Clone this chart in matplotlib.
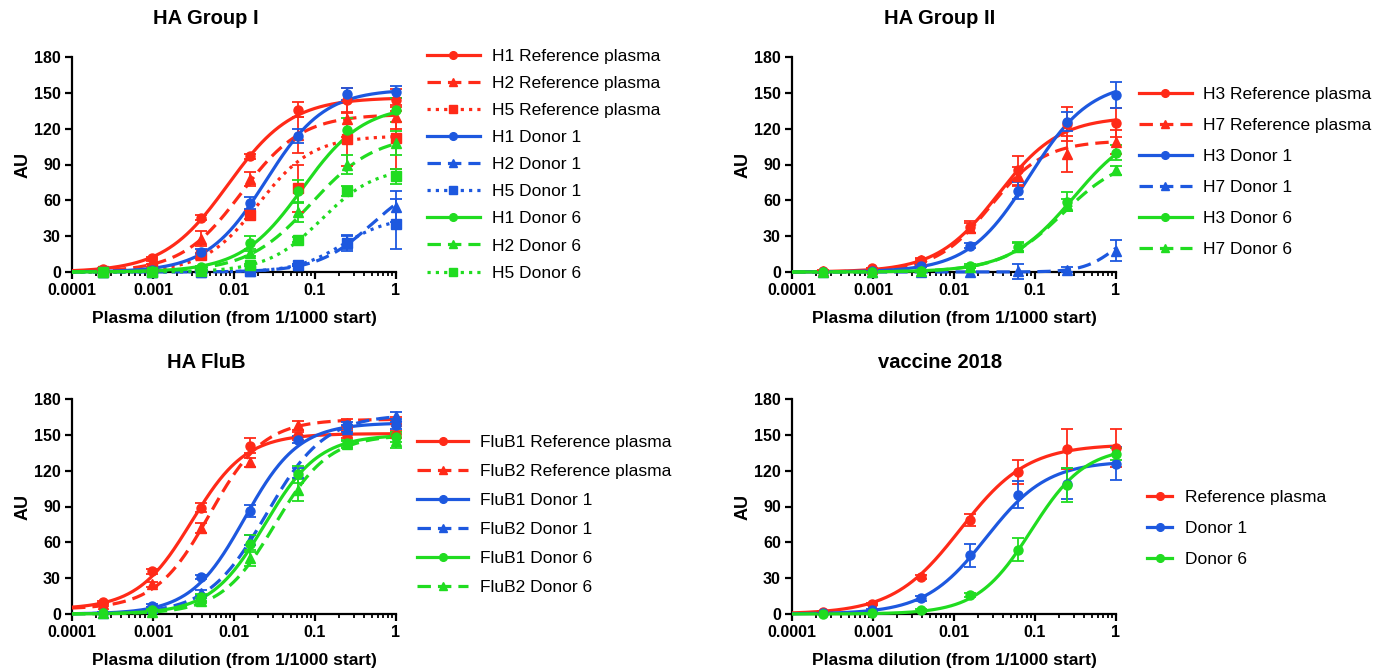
import numpy as np
import matplotlib
matplotlib.use("Agg")
import matplotlib.pyplot as plt
from matplotlib.ticker import LogLocator, FixedLocator, NullFormatter, FixedFormatter

plt.rcParams['font.family'] = ['Liberation Sans', 'DejaVu Sans']

# ---------------- data ----------------
dilution = [1, 1/4, 1/16, 1/64, 1/256, 1/1024, 1/4096]

RED = '#ff2a18'
BLUE = '#1d58df'
GREEN = '#20dc20'

# HA Group I
g1_labels = ["H1 Reference plasma", "H2 Reference plasma", "H5 Reference plasma",
             "H1 Donor 1", "H2 Donor 1", "H5 Donor 1",
             "H1 Donor 6", "H2 Donor 6", "H5 Donor 6"]
g1_values = [[144, 144, 136, 97, 45.6, 11.7, 2.5],
             [130, 128, 115, 78, 28, 8, 1],
             [112, 111, 70, 48, 14, 3, 0.5],
             [151, 149, 114, 58, 17, 2, 0],
             [54.6, 25, 6, 0.5, 0, 0, 0],
             [40, 24, 6, 0.5, 0, 0, 0],
             [136, 119, 68, 24, 4, 1, 0],
             [108, 90, 50, 16, 3, 0.5, 0],
             [80, 68, 27, 6, 1, 0, 0]]
g1_errors = [[9, 10, 6, 2, 2, 1, 0.5],
             [10, 15, 15, 6, 6, 1, 0.5],
             [26, 22, 20, 4, 2, 1, 0.3],
             [5, 5, 6, 5, 2, 0.5, 0],
             [13, 6, 1, 0.3, 0, 0, 0],
             [21, 6, 1, 0.3, 0, 0, 0],
             [10, 10, 9, 6, 1, 0.5, 0],
             [10, 8, 8, 3, 1, 0.3, 0],
             [6, 4, 2, 1, 0.3, 0, 0]]
# 4PL fit parameters (bottom, top, EC50, hill)
g1_fits = [(0, 146, 0.0084, 1.1), (0, 132, 0.0123, 1.17), (0, 114, 0.02, 1.3),
           (0, 153, 0.0248, 1.2), (0, 80, 0.5, 1.3), (0, 46, 0.22, 1.5),
           (0, 140, 0.07, 1.15), (0, 115, 0.09, 1.1), (0, 88, 0.12, 1.3)]
g1_colors = [RED, RED, RED, BLUE, BLUE, BLUE, GREEN, GREEN, GREEN]
g1_styles = ['-', '--', ':'] * 3
g1_markers = ['o', '^', 's'] * 3

# HA Group II
g2_labels = ["H3 Reference plasma", "H7 Reference plasma", "H3 Donor 1",
             "H7 Donor 1", "H3 Donor 6", "H7 Donor 6"]
g2_values = [[125, 124, 85, 38, 10, 3, 1],
             [109, 99, 80, 37, 10, 2.5, 0.5],
             [148, 126, 68, 22, 5, 0.5, 0],
             [18, 2, 0.5, 0, 0, 0, 0],
             [100, 59, 21, 5, 0.5, 0, 0],
             [85, 56, 21, 4, 0.5, 0, 0]]
g2_errors = [[12, 14, 12, 5, 1.5, 0.5, 0.3],
             [10, 15, 8, 4, 1, 0.5, 0.3],
             [11, 8, 7, 2, 1, 0.3, 0],
             [9, 2, 6, 0, 0, 0, 0],
             [6, 8, 4, 2, 0.5, 0, 0],
             [4, 5, 3, 1, 0.3, 0, 0]]
g2_fits = [(0, 130, 0.035, 1.15), (0, 110, 0.028, 1.3), (0, 160, 0.085, 1.15),
           (0, 40, 1.0, 2.2), (0, 125, 0.3, 1.1), (0, 98, 0.22, 1.15)]
g2_colors = [RED, RED, BLUE, BLUE, GREEN, GREEN]
g2_styles = ['-', '--'] * 3
g2_markers = ['o', '^'] * 3

# HA FluB
g3_labels = ["FluB1 Reference plasma", "FluB2 Reference plasma", "FluB1 Donor 1",
             "FluB2 Donor 1", "FluB1 Donor 6", "FluB2 Donor 6"]
g3_values = [[150, 150, 149, 141, 89, 35.6, 9.7],
             [162, 160, 158, 127, 72, 25, 8],
             [158, 158, 146, 86, 31, 7, 1],
             [166, 155, 118, 62, 18, 5, 1],
             [148, 143, 117, 59, 14, 3, 0.5],
             [145, 142, 104, 47, 11, 2, 0.5]]
g3_errors = [[3, 3, 3, 6, 4, 2, 1],
             [3, 3, 4, 4, 4, 2, 1],
             [3, 3, 3, 5, 2, 1, 0.5],
             [3, 3, 4, 4, 2, 1, 0.5],
             [4, 3, 7, 7, 3, 1, 0.3],
             [6, 3, 9, 7, 2, 1, 0.3]]
g3_fits = [(4, 151, 0.003, 1.3), (4, 163, 0.005, 1.3), (0, 160, 0.0135, 1.3),
           (0, 167, 0.025, 1.2), (0, 150, 0.024, 1.3), (0, 150, 0.032, 1.3)]
g3_colors = [RED, RED, BLUE, BLUE, GREEN, GREEN]
g3_styles = ['-', '--'] * 3
g3_markers = ['o', '^'] * 3

# vaccine 2018
g4_labels = ["Reference plasma", "Donor 1", "Donor 6"]
g4_values = [[139, 138, 119, 79, 31, 8.6, 1.7],
             [126, 109, 100, 49, 13, 3, 0.5],
             [134, 108, 54, 16, 3, 0.5, 0]]
g4_errors = [[16, 17, 10, 5, 1.5, 1, 0.5],
             [14, 13, 11, 10, 2, 1, 0.3],
             [5, 14, 10, 2, 1, 0.3, 0]]
g4_fits = [(0, 142, 0.012, 1.05), (0, 128, 0.025, 1.15), (0, 140, 0.09, 1.3)]
g4_colors = [RED, BLUE, GREEN]
g4_styles = ['-', '-', '-']
g4_markers = ['o', 'o', 'o']

titles = ["HA Group I", "HA Group II", "HA FluB", "vaccine 2018"]
y_ticks = [0, 30, 60, 90, 120, 150, 180]
x_ticks = [0.0001, 0.001, 0.01, 0.1, 1]
x_ticklabels = ["0.0001", "0.001", "0.01", "0.1", "1"]
xlabel = "Plasma dilution (from 1/1000 start)"
ylabel = "AU"

# ---------------- figure ----------------
W, H = 1373, 671
fig = plt.figure(figsize=(W / 100, H / 100), dpi=100)


def fpx(x, y):
    return x / W, 1 - y / H


def make_ax(left, right, top, bottom):
    l, t = fpx(left, top)
    r, b = fpx(right, bottom)
    return fig.add_axes([l, b, r - l, t - b])


axes = [make_ax(72, 396, 57, 272), make_ax(792, 1116, 57, 272),
        make_ax(72, 396, 399, 614), make_ax(792, 1116, 399, 614)]

title_pos = [(206, 18), (940, 18), (206, 362), (940, 362)]
legend_cfg = [  # (x, top y, handlelength, handletextpad, labelspacing)
    (427, 48.5, 3.05, 0.70, 0.69),
    (1139, 87, 3.05, 0.65, 0.91),
    (417, 435, 2.95, 0.70, 0.80),
    (1147, 490, 1.45, 0.75, 0.92),
]

groups = [
    (g1_labels, g1_values, g1_errors, g1_fits, g1_colors, g1_styles, g1_markers),
    (g2_labels, g2_values, g2_errors, g2_fits, g2_colors, g2_styles, g2_markers),
    (g3_labels, g3_values, g3_errors, g3_fits, g3_colors, g3_styles, g3_markers),
    (g4_labels, g4_values, g4_errors, g4_fits, g4_colors, g4_styles, g4_markers),
]

dashmap = {'-': '-', '--': (0, (4.2, 2.2)), ':': (0, (1.0, 1.6))}
xfit = np.logspace(-4, 0, 300)

for i, (ax, grp) in enumerate(zip(axes, groups)):
    labels, values, errors, fits, colors, styles, markers = grp
    handles = []
    for lab, v, e, fit, c, ls, mk in zip(labels, values, errors, fits, colors, styles, markers):
        bottom, top, ec50, hill = fit
        yfit = bottom + (top - bottom) / (1 + (ec50 / xfit) ** hill)
        ax.plot(xfit, yfit, color=c, lw=2.3, linestyle=dashmap[ls], clip_on=False,
                solid_capstyle='butt', dash_capstyle='butt', zorder=3)
        ax.errorbar(dilution, v, yerr=e, fmt='none', ecolor=c, elinewidth=1.3,
                    capsize=4.5, capthick=1.3, clip_on=False, zorder=4)
        ax.plot(dilution, v, linestyle='none', marker=mk, color=c, ms=6.5,
                clip_on=False, zorder=5)
        h, = ax.plot([], [], color=c, lw=2.3, linestyle=dashmap[ls], marker=mk, ms=6.5,
                     dash_capstyle='butt')
        handles.append(h)

    ax.set_xscale('log')
    ax.set_xlim(0.0001, 1)
    ax.set_ylim(0, 180)
    ax.spines['top'].set_visible(False)
    ax.spines['right'].set_visible(False)
    for s in ('left', 'bottom'):
        ax.spines[s].set_linewidth(1.6)
    ax.xaxis.set_major_locator(FixedLocator(x_ticks))
    ax.xaxis.set_major_formatter(FixedFormatter(x_ticklabels))
    ax.xaxis.set_minor_locator(LogLocator(base=10, subs=np.arange(2, 10), numticks=20))
    ax.xaxis.set_minor_formatter(NullFormatter())
    ax.set_yticks(y_ticks)
    ax.tick_params(axis='both', which='major', direction='out', length=5, width=1.6,
                   labelsize=11.5, pad=3)
    ax.tick_params(axis='x', which='minor', direction='out', length=3, width=1.3)
    for lbl in ax.get_xticklabels() + ax.get_yticklabels():
        lbl.set_fontweight('bold')
    ax.set_xlabel(xlabel, fontsize=12.5, fontweight='bold', labelpad=9)
    ax.set_ylabel(ylabel, fontsize=13, fontweight='bold', labelpad=2)

    tx, ty = fpx(*title_pos[i])
    fig.text(tx, ty, titles[i], fontsize=14.5, fontweight='bold', ha='center', va='center')

    lx, ly, hl, htp, lsp = legend_cfg[i]
    ax_x, ax_y = fpx(lx, ly)
    fig.legend(handles=handles, labels=labels, loc='upper left',
               bbox_to_anchor=(ax_x, ax_y), bbox_transform=fig.transFigure,
               frameon=False, borderpad=0, borderaxespad=0, fontsize=12.5,
               handlelength=hl, handletextpad=htp, labelspacing=lsp, numpoints=1,
               markerscale=0.85)

fig.savefig("out.png", dpi=100)
